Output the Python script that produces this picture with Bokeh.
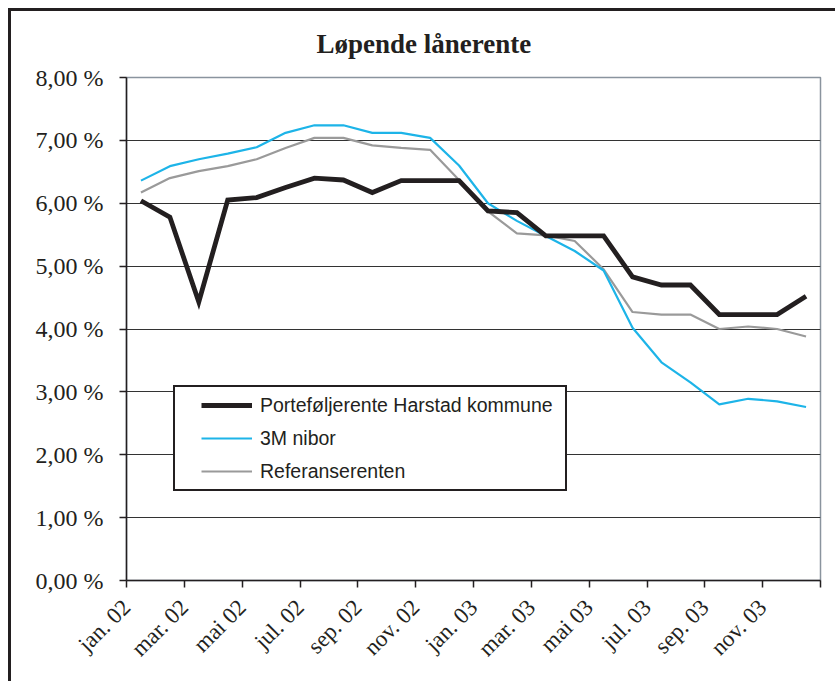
import math
from bokeh.plotting import figure
from bokeh.models import FixedTicker, Legend, LegendItem, Range1d, ColumnDataSource
from bokeh.embed import file_html
from bokeh.resources import INLINE

# ---- data -------------------------------------------------------------
month_index = list(range(24))  # jan. 02 .. des. 03
x_tick_labels = ["jan. 02", "mar. 02", "mai 02", "jul. 02", "sep. 02", "nov. 02",
                 "jan. 03", "mar. 03", "mai 03", "jul. 03", "sep. 03", "nov. 03"]
y_tick_values = [0, 1, 2, 3, 4, 5, 6, 7, 8]
y_tick_labels = ["0,00 %", "1,00 %", "2,00 %", "3,00 %", "4,00 %",
                 "5,00 %", "6,00 %", "7,00 %", "8,00 %"]

portefolje = [6.04, 5.78, 4.43, 6.05, 6.09, 6.25, 6.40, 6.37, 6.17, 6.36, 6.36, 6.36,
              5.88, 5.85, 5.48, 5.48, 5.48, 4.83, 4.70, 4.70, 4.23, 4.23, 4.23, 4.52]
nibor_3m = [6.36, 6.59, 6.70, 6.79, 6.89, 7.12, 7.24, 7.24, 7.12, 7.12, 7.04, 6.60,
            6.00, 5.72, 5.48, 5.24, 4.93, 4.02, 3.47, 3.15, 2.80, 2.89, 2.85, 2.76]
referanse = [6.17, 6.40, 6.51, 6.59, 6.70, 6.88, 7.04, 7.04, 6.92, 6.88, 6.85, 6.37,
             5.87, 5.52, 5.49, 5.40, 4.95, 4.27, 4.23, 4.23, 4.00, 4.04, 4.00, 3.88]

series_names = ["Porteføljerente Harstad kommune", "3M nibor", "Referanserenten"]

# ---- figure -----------------------------------------------------------
DARK = "#231f20"
BLUE = "#1db4e8"
GREY = "#9a9a9a"

xs = [i + 0.5 for i in month_index]
src = ColumnDataSource(dict(x=xs, port=portefolje, nibor=nibor_3m, ref=referanse))

p = figure(width=824, height=670, frame_width=694, frame_height=503,
           min_border_left=115, min_border_right=15, min_border_top=66, min_border_bottom=101,
           x_range=Range1d(0, 24), y_range=Range1d(0, 8),
           output_backend="svg", toolbar_location=None,
           background_fill_color="white", border_fill_color="white")

p.styles = {"margin-left": "8px", "margin-top": "8px",
            "border-top": "3px solid #231f20", "border-left": "3px solid #231f20"}

p.title.text = "Løpende lånerente"
p.title.text_font = "Liberation Serif"
p.title.text_font_style = "bold"
p.title.text_font_size = "27px"
p.title.text_color = DARK
p.title.align = "left"
p.title.offset = 190
p.title.vertical_align = "top"
p.title.standoff = 33

p.outline_line_color = "#8a949e"
p.outline_line_width = 1.5

# grid
p.xgrid.visible = False
p.ygrid.ticker = FixedTicker(ticks=y_tick_values[1:-1])
p.ygrid.grid_line_color = "#333333"
p.ygrid.grid_line_width = 1

# y axis
p.yaxis.ticker = FixedTicker(ticks=y_tick_values)
p.yaxis.major_label_overrides = {v: lab for v, lab in zip(y_tick_values, y_tick_labels)}
p.yaxis.major_label_text_font = "Liberation Serif"
p.yaxis.major_label_text_font_size = "24px"
p.yaxis.major_label_text_color = DARK
p.yaxis.major_label_standoff = 16

# x axis: ticks every second month at category boundaries
x_ticks = list(range(0, 25, 2))
x_over = {t: "" for t in x_ticks}
for t, lab in zip(x_ticks, x_tick_labels):
    x_over[t] = lab
p.xaxis.ticker = FixedTicker(ticks=x_ticks)
p.xaxis.major_label_overrides = x_over
p.xaxis.major_label_orientation = math.pi / 4
p.xaxis.major_label_text_font = "Liberation Serif"
p.xaxis.major_label_text_font_size = "23px"
p.xaxis.major_label_text_color = DARK
p.xaxis.major_label_standoff = 16

for ax in (p.xaxis, p.yaxis):
    ax.axis_line_color = DARK
    ax.axis_line_width = 1.5
    ax.major_tick_line_color = DARK
    ax.major_tick_line_width = 1.5
    ax.major_tick_in = 0
    ax.major_tick_out = 7
    ax.minor_tick_in = 0
    ax.minor_tick_out = 0

# ---- lines ------------------------------------------------------------
p.line("x", "ref", source=src, line_color=GREY, line_width=2.2)
p.line("x", "nibor", source=src, line_color=BLUE, line_width=2.2)
p.line("x", "port", source=src, line_color=DARK, line_width=4.8, line_join="miter")

# legend glyphs (renderers that draw nothing in the plot; the dash pattern
# gives the indent of the sample line inside the legend box)
nothing = ColumnDataSource(dict(x=[float("nan")], y=[float("nan")]))
lg_port = p.line("x", "y", source=nothing, line_color=DARK, line_width=4.8, line_dash="0 20 52")
lg_nib = p.line("x", "y", source=nothing, line_color=BLUE, line_width=2.2, line_dash="0 20 52")
lg_ref = p.line("x", "y", source=nothing, line_color=GREY, line_width=2.2, line_dash="0 20 52")

legend = Legend(items=[LegendItem(label=series_names[0], renderers=[lg_port]),
                       LegendItem(label=series_names[1], renderers=[lg_nib]),
                       LegendItem(label=series_names[2], renderers=[lg_ref])],
                location=(47, 89))
legend.padding = 6
legend.margin = 0
legend.spacing = 9
legend.glyph_width = 71
legend.glyph_height = 24
legend.label_height = 24
legend.label_width = 299
legend.label_standoff = 8
legend.label_text_font = "Liberation Sans"
legend.label_text_font_size = "19.5px"
legend.label_text_color = DARK
legend.border_line_color = DARK
legend.border_line_width = 2
legend.border_line_alpha = 1.0
legend.background_fill_color = "white"
legend.background_fill_alpha = 1.0
p.add_layout(legend, "center")

open("out.html", "w").write(file_html(p, INLINE))
